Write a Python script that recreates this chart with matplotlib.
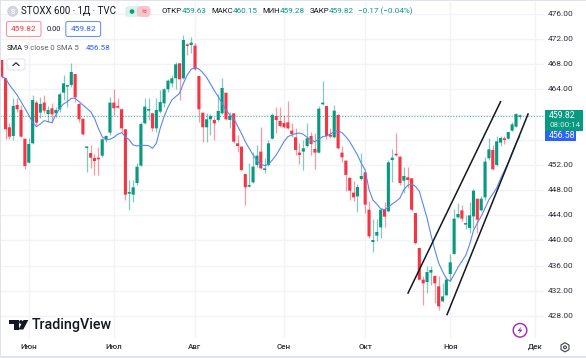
# -*- coding: utf-8 -*-
# STOXX 600 daily candles with SMA and a hand drawn channel
import numpy as np
import matplotlib
matplotlib.use("Agg")
import matplotlib.pyplot as plt
from matplotlib.patches import Circle, FancyBboxPatch, Polygon, Rectangle

plt.rcParams['font.family'] = ['Roboto', 'DejaVu Sans']

# ===================== data =====================
opens = [468.69,465.78,457.99,456.61,461.54,460.74,456.18,452.37,455.44,461.91,
         460.32,461.91,460.10,461.01,460.21,460.85,463.50,464.45,464.71,466.46,
         461.70,459.36,454.70,453.90,453.11,453.00,453.48,456.13,457.14,461.91,
         461.27,460.85,457.67,447.44,447.28,449.13,451.89,458.62,460.63,460.21,
         457.82,460.48,461.80,464.03,464.98,465.78,468.16,465.78,471.07,471.07,
         470.97,466.15,460.32,457.99,459.26,459.15,459.15,460.21,463.50,459.15,
         460.21,455.44,454.91,450.56,448.55,449.24,451.99,454.12,451.20,451.99,
         456.18,459.79,458.99,458.67,458.78,457.45,456.39,453.96,454.12,455.02,
         456.61,454.54,453.96,461.64,461.38,456.76,456.39,459.95,453.96,452.68,
         449.98,447.60,447.01,449.77,450.83,444.89,439.75,440.76,442.08,444.89,
         444.63,452.79,453.69,453.32,449.50,450.03,449.87,444.36,438.80,433.76,
         433.39,434.88,434.35,432.70,430.32,431.27,434.66,437.84,443.67,444.79,
         442.51,441.98,443.83,446.64,444.79,446.85,453.06,454.38,451.99,455.55,
         456.24,456.18,457.45,458.09,459.63]
closes = [466.04,457.67,456.50,461.38,460.85,456.50,451.84,455.33,462.33,458.73,
          461.70,460.63,460.74,460.05,460.74,463.23,464.98,464.56,466.78,462.75,
          459.26,456.87,454.80,453.16,452.63,452.90,456.08,456.61,461.91,461.01,
          461.11,457.82,447.28,447.70,448.44,451.73,458.51,461.27,460.85,457.82,
          460.74,462.01,464.03,465.40,465.78,468.00,465.62,471.87,470.92,471.45,
          467.21,460.85,457.99,459.26,459.79,458.62,460.58,464.24,459.26,459.84,
          455.70,455.02,451.20,448.44,448.66,451.73,453.48,451.46,451.36,455.44,
          459.95,459.15,458.20,457.99,457.82,456.92,454.38,453.59,454.65,456.24,
          455.33,453.96,460.95,461.91,456.61,456.50,460.63,454.65,453.21,450.41,
          447.91,446.85,448.50,450.25,445.69,440.65,440.07,441.34,444.89,443.78,
          452.42,453.16,453.53,449.13,450.25,449.61,444.89,439.59,433.76,433.18,
          434.98,435.30,433.18,429.52,431.11,433.76,436.52,443.46,444.20,443.46,
          442.77,443.99,447.91,443.30,446.64,452.53,454.49,451.31,455.76,456.29,
          455.97,457.24,458.46,460.10,459.82]
highs = [468.69,465.78,458.73,462.60,462.60,461.54,456.18,456.24,463.12,462.33,
         462.86,463.12,461.38,461.80,461.27,463.66,466.31,464.56,468.27,466.46,
         461.80,459.36,454.91,455.18,453.74,454.91,456.24,456.76,462.75,464.03,
         462.60,461.01,457.67,449.61,449.66,452.26,458.88,462.60,462.60,460.21,
         462.60,463.92,464.19,465.62,466.31,468.42,468.16,472.67,471.45,472.29,
         471.45,466.15,460.32,460.21,460.10,459.57,463.28,465.78,463.50,460.48,
         460.21,456.76,455.02,450.56,452.26,454.12,455.18,458.09,453.05,455.97,
         460.21,461.27,461.27,459.95,462.17,458.73,457.82,455.44,455.97,458.73,
         457.30,457.03,461.38,465.35,461.38,457.82,461.54,460.05,455.02,452.79,
         450.00,449.50,448.92,453.96,450.83,446.32,443.46,443.46,445.16,446.11,
         452.79,454.54,457.14,453.42,451.73,451.73,449.93,444.36,438.80,434.29,
         435.88,435.88,434.56,434.29,433.23,434.19,437.84,444.99,445.95,445.69,
         443.99,446.11,448.23,446.64,447.01,453.32,456.24,455.18,456.61,456.61,
         456.61,457.24,458.83,460.21,460.15]
lows = [465.78,456.08,456.08,455.97,460.48,456.50,451.31,452.26,455.33,458.36,
        459.42,460.21,458.88,458.62,459.57,460.48,462.33,461.27,464.45,462.07,
        458.88,456.76,450.93,451.46,450.41,450.41,453.32,455.70,456.76,459.95,
        461.01,457.30,446.48,444.89,446.11,448.87,451.89,458.51,459.15,457.40,
        457.30,460.32,461.27,463.66,464.45,464.03,462.33,465.67,469.49,469.75,
        467.10,458.88,455.70,455.70,456.76,455.97,459.04,460.10,459.15,457.82,
        455.44,454.12,451.09,445.58,448.44,449.13,451.73,451.31,450.67,451.89,
        456.08,457.14,457.99,457.82,457.67,456.39,453.59,452.15,451.20,454.91,
        453.59,451.31,453.85,461.54,456.08,456.24,456.24,454.54,452.53,447.91,
        446.48,446.22,444.47,449.61,444.36,440.39,438.11,439.86,440.39,442.08,
        444.52,449.35,453.50,448.81,447.54,448.34,444.63,439.43,433.66,429.68,
        431.64,432.97,430.05,428.89,430.21,431.27,433.50,437.84,443.57,443.04,
        441.87,441.18,441.98,441.18,444.63,446.43,452.79,451.20,451.89,455.07,
        455.28,456.08,457.35,457.99,459.28]
sma = [466.04,465.78,464.72,463.92,463.12,462.07,461.01,459.95,458.73,458.09,
       458.51,459.04,458.88,458.73,459.95,461.01,461.70,462.07,462.60,462.60,
       462.07,461.54,461.01,460.48,459.42,457.82,456.50,455.97,456.08,456.39,
       456.87,457.14,456.50,455.97,455.18,455.02,455.12,455.12,455.07,454.65,
       455.44,457.82,459.68,461.16,462.33,462.86,463.39,464.98,466.31,467.21,
       467.47,467.26,466.68,465.93,464.87,463.81,462.86,461.80,460.74,459.95,
       459.42,458.20,457.03,455.70,454.65,453.59,452.68,452.15,451.89,452.10,
       452.79,453.59,454.65,455.70,456.50,456.76,456.98,457.08,456.87,456.39,
       455.97,455.70,456.08,456.50,456.61,456.92,457.30,457.40,457.14,456.50,
       455.70,454.65,453.59,452.26,451.20,448.07,446.43,445.79,445.05,444.89,
       445.27,445.79,446.22,446.75,448.07,448.76,448.97,448.60,447.81,445.69,
       443.57,440.92,438.53,436.41,435.09,433.92,433.50,434.56,435.72,436.68,
       437.63,439.33,441.55,442.77,443.83,445.16,446.48,447.38,448.34,449.82,
       451.09,452.42,453.96,455.44,456.58]

price_ticks = [476, 472, 468, 464, 452, 448, 444, 440, 436, 432, 428]
grid_ticks = [476, 472, 468, 464, 460, 456, 452, 448, 444, 440, 436, 432, 428]
month_labels = ["Июн", "Июл", "Авг", "Сен", "Окт", "Ноя", "Дек"]
month_pos = [7, 29, 50, 73, 94, 116, 138]

# two channel lines drawn on the chart (bar index, price)
channel_x = [[105.0, 129.1], [115.1, 136.2]]
channel_y = [[431.53, 462.17], [428.10, 460.21]]

GREEN = "#089981"
RED = "#F23645"
BLUE = "#2962FF"
DARK = "#131722"
GRAY = "#5d606b"
GRID = "#f2f3f6"

W, H = 586, 358
fig = plt.figure(figsize=(W / 100, H / 100), dpi=100, facecolor="white")

# ===================== main chart =====================
AX_R, AX_T, AX_B = 544, 2, 338
ax = fig.add_axes([0, 1 - AX_B / H, AX_R / W, (AX_B - AX_T) / H])
ax.set_xlim((0 - 1.67) / 3.867, (AX_R - 1.67) / 3.867)
ax.set_ylim(476 - (AX_B - 14) / 6.29, 476 - (AX_T - 14) / 6.29)
ax.set_xticks([])
ax.set_yticks([])
for s in ax.spines.values():
    s.set_visible(False)

for p in grid_ticks:
    ax.axhline(p, color=GRID, linewidth=1, zorder=1)
for m in month_pos:
    ax.axvline(m, color=GRID, linewidth=1, zorder=1)

ax.axhline(closes[-1], color=GREEN, linestyle=(0, (1, 1.5)), linewidth=0.8, alpha=0.7, zorder=2)

x = np.arange(len(opens))
o = np.array(opens)
c = np.array(closes)
colors = [GREEN if cc >= oo else RED for oo, cc in zip(o, c)]
ax.vlines(x, lows, highs, colors=colors, linewidth=0.9, alpha=0.5, zorder=3)
bars = ax.bar(x, np.maximum(np.abs(c - o), 0.25), bottom=np.minimum(o, c), width=0.8,
              color=colors, linewidth=0, zorder=4)
for b in bars:
    b.set_snap(False)

ax.plot(np.arange(len(sma)), sma, color="#5b87f0", linewidth=0.8, zorder=5)
for cx, cy in zip(channel_x, channel_y):
    ax.plot(cx, cy, color="#131722", linewidth=1.1, zorder=6, solid_capstyle="butt")

# ===================== overlay in pixel coords: header, tags, logo =====================
ov = fig.add_axes([0, 0, 1, 1], facecolor="none")
ov.set_xlim(0, W)
ov.set_ylim(H, 0)
ov.axis("off")

# frame
ov.add_patch(Rectangle((0, 0), W, 1.2, color="#e0e3eb", lw=0))
ov.add_patch(Rectangle((0, 0), 1.2, H, color="#e0e3eb", lw=0))
ov.add_patch(Rectangle((0, 356), W, 2, color="#e0e3eb", lw=0))


def txt(px, py, s, color=DARK, size=6.2, ha="left", weight="normal"):
    ov.text(px, py, s, color=color, fontsize=size, ha=ha, va="center", fontweight=weight)


def box(x0, y0, w, h, edge, face="white", lw=0.8, r=2):
    ov.add_patch(FancyBboxPatch((x0 + r, y0 + r), w - 2 * r, h - 2 * r, boxstyle=f"round,pad={r}",
                                edgecolor=edge, facecolor=face, linewidth=lw))


# title row
ov.add_patch(Circle((12.7, 11.3), 5.5, color="#d1d4dc", lw=0))
txt(12.7, 11.5, "S", color="white", size=5, ha="center", weight="bold")
txt(21, 11.3, "STOXX 600 · 1Д · TVC", size=7.0)
box(125, 6, 15, 11, "none", face="#d9f0eb", r=4)
box(137, 6, 13.5, 11, "none", face="#f7c6cc", r=4)
ov.add_patch(Circle((132, 11.5), 2.3, color=GREEN, lw=0))
txt(144, 11.3, "≈", color=RED, size=6.5, ha="center")

txt(161, 11.3, "ОТКР", size=5.7)
txt(181.5, 11.3, "459.63", color=GREEN, size=5.9)
txt(211, 11.3, "МАКС", size=5.6)
txt(233, 11.3, "460.15", color=GREEN, size=5.9)
txt(262.5, 11.3, "МИН", size=5.6)
txt(280, 11.3, "459.28", color=GREEN, size=5.9)
txt(309.3, 11.3, "ЗАКР", size=5.7)
txt(329, 11.3, "459.82", color=GREEN, size=5.9)
txt(357.5, 11.3, "−0.17 (−0.04%)", color=GREEN, size=5.9)

# bid / ask row
box(6.5, 21.5, 34.5, 15, "#f7979f")
txt(23.7, 29.3, "459.82", color=RED, size=6.0, ha="center")
txt(53.5, 29.3, "0.00", color=DARK, size=5.4, ha="center")
box(65.8, 21.5, 34.8, 15, "#6f93f5")
txt(83.2, 29.3, "459.82", color=BLUE, size=6.0, ha="center")

# indicator row
txt(7, 47.5, "SMA", color=DARK, size=5.5)
txt(24, 47.5, "9 close 0 SMA 5", color=GRAY, size=5.5)
txt(86, 47.5, "456.58", color=BLUE, size=5.8)
box(7, 59, 18, 11, "#e0e3eb", lw=0.7)
ov.plot([13, 16, 19], [65.5, 62.8, 65.5], color=DARK, linewidth=0.8)

# price axis
for p in price_ticks:
    py = 14 + (476 - p) * 6.29
    txt(561, py, f"{p:.2f}", color="#2a2e39", size=6.0, ha="center")

# last price and sma tags
ov.add_patch(Rectangle((544.5, 110), 38.5, 20.5, color=GREEN, lw=0))
txt(549, 116, "459.82", color="white", size=6.2)
txt(549, 125, "08:00:14", color="#d6f0ea", size=5.8)
ov.add_patch(Rectangle((544.5, 130.8), 31, 10.5, color=BLUE, lw=0))
txt(549, 136, "456.58", color="white", size=6.2)

# time axis
for m, lab in zip(month_pos, month_labels):
    txt(1.67 + 3.867 * m, 347.3, lab, color="#2a2e39", size=5.8, ha="center", weight="medium")

# TradingView logo
ov.add_patch(Polygon([(8.5, 320), (18.5, 320), (18.5, 329.5), (13.5, 329.5), (13.5, 324), (8.5, 324)],
                     color="#131722", lw=0))
ov.add_patch(Circle((21, 322), 1.9, color="#131722", lw=0))
ov.add_patch(Polygon([(23.5, 320), (28.3, 320), (23.3, 329.5), (18.5, 329.5)], color="#131722", lw=0))
txt(32, 325, "TradingView", color="#131722", size=10.3, weight="medium")

# lightning button
ov.add_patch(Circle((520, 330.3), 6.8, facecolor="white", edgecolor="#9c27b0", linewidth=1.0))
ov.add_patch(Polygon([(521.5, 326.5), (517.5, 331), (520, 331), (518.7, 334.2), (522.5, 329.7), (520, 329.7)],
                     color="#9c27b0", lw=0))

# settings gear
ang = np.deg2rad(np.arange(30, 390, 60))
ov.add_patch(Polygon(np.c_[565 + 4.6 * np.cos(ang), 347.3 + 4.6 * np.sin(ang)], closed=True,
                     facecolor="white", edgecolor="#3b3f4a", linewidth=0.8))
ov.add_patch(Circle((565, 347.3), 1.4, facecolor="white", edgecolor="#3b3f4a", linewidth=0.8))

fig.savefig("out.png", dpi=100)
plt.close(fig)
